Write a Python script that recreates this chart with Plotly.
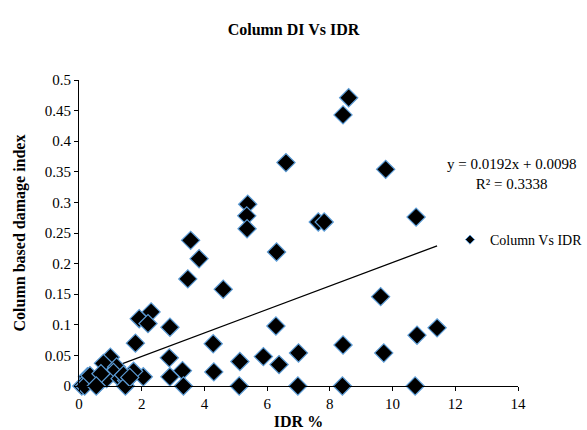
import plotly.graph_objects as go

# Data
idr = [8.6, 8.42, 6.6, 9.78, 5.38, 5.35, 5.36, 7.63, 7.82, 10.75,
       3.56, 6.3, 3.83, 3.47, 4.6, 9.62, 2.3, 1.92, 2.2, 2.9,
       6.28, 11.42, 10.78, 1.8, 4.28, 8.42, 7.0, 9.72, 5.88, 2.88,
       5.13, 6.38, 3.3, 4.3, 2.9, 2.05, 3.33, 5.11, 6.98, 8.4,
       10.72, 1.0, 0.78, 1.2, 1.1, 1.74, 0.27, 0.4, 0.62, 0.88,
       1.31, 1.52, 1.42, 0.09, 0.18, 1.48, 0.35, 1.62, 0.7, 0.55]
damage = [0.471, 0.443, 0.365, 0.354, 0.297, 0.278, 0.257, 0.268, 0.268, 0.276,
          0.238, 0.219, 0.208, 0.175, 0.158, 0.146, 0.121, 0.110, 0.102, 0.096,
          0.098, 0.095, 0.083, 0.070, 0.069, 0.067, 0.054, 0.054, 0.048, 0.046,
          0.040, 0.035, 0.025, 0.023, 0.015, 0.015, 0.0, 0.0, 0.0, 0.0,
          0.0, 0.047, 0.037, 0.031, 0.022, 0.024, 0.015, 0.009, 0.004, 0.012,
          0.012, 0.009, 0.018, 0.0, 0.0, 0.0, 0.017, 0.014, 0.020, 0.0]

trend_slope = 0.0192
trend_intercept = 0.0098
r_squared = 0.3338

x_ticks = [0, 2, 4, 6, 8, 10, 12, 14]
y_ticks = [0, 0.05, 0.1, 0.15, 0.2, 0.25, 0.3, 0.35, 0.4, 0.45, 0.5]
y_ticktext = ["0", "0.05", "0.1", "0.15", "0.2", "0.25", "0.3", "0.35", "0.4", "0.45", "0.5"]

series_name = "Column Vs IDR"
marker_fill = "black"
marker_edge = "#5B9BD5"
FONT = "Liberation Serif"

x_min, x_max = min(idr), max(idr)
trend_x = [x_min, x_max]
trend_y = [trend_slope * v + trend_intercept for v in trend_x]

fig = go.Figure()
fig.add_trace(go.Scatter(
    x=trend_x, y=trend_y, mode="lines",
    line=dict(color="black", width=1.3),
    showlegend=False, hoverinfo="skip", cliponaxis=False))
fig.add_trace(go.Scatter(
    x=idr, y=damage, mode="markers", name=series_name,
    marker=dict(symbol="diamond", size=14, color=marker_fill,
                line=dict(color=marker_edge, width=1.2)),
    showlegend=False, cliponaxis=False))
fig.add_trace(go.Scatter(
    x=[None], y=[None], mode="markers", name=series_name,
    marker=dict(symbol="diamond", size=7, color=marker_fill,
                line=dict(color=marker_edge, width=1)),
    showlegend=True))

fig.update_layout(
    width=587, height=430,
    paper_bgcolor="white", plot_bgcolor="white",
    margin=dict(l=79, r=69, t=80, b=44, autoexpand=False),
    font=dict(family=FONT, size=15, color="black"),
    title=dict(text="<b>Column DI Vs IDR</b>", x=0.5, xanchor="center",
               xref="container", yref="container",
               y=1 - 29 / 430, yanchor="middle",
               font=dict(family=FONT, size=16, color="black")),
    showlegend=True,
    legend=dict(xref="container", yref="container",
                x=450 / 587, y=1 - 240 / 430, xanchor="left", yanchor="middle",
                bgcolor="rgba(0,0,0,0)", font=dict(family=FONT, size=14),
                itemwidth=30, tracegroupgap=0),
    xaxis=dict(range=[0, 14], tickvals=x_ticks, showgrid=False, zeroline=False,
               automargin=False,
               showline=True, linecolor="black", linewidth=1,
               ticks="outside", ticklen=4, tickcolor="black",
               tickfont=dict(family=FONT, size=15),
               title=dict(text="<b>IDR %</b>", standoff=4,
                          font=dict(family=FONT, size=16))),
    yaxis=dict(range=[0, 0.5], tickvals=y_ticks, ticktext=y_ticktext,
               showgrid=False, zeroline=False, automargin=False,
               showline=True, linecolor="black", linewidth=1,
               ticks="outside", ticklen=4, tickcolor="black",
               tickfont=dict(family=FONT, size=15),
               title=dict(text="<b>Column based damage index</b>", standoff=15,
                          font=dict(family=FONT, size=16))),
    annotations=[dict(
        xref="paper", yref="paper", x=(511 - 79) / 439, y=(386 - 174) / 306,
        xanchor="center", yanchor="middle", align="center", showarrow=False,
        text=f"y = {trend_slope}x + {trend_intercept}<br>R² = {r_squared}",
        font=dict(family=FONT, size=15, color="black"))],
)

fig.write_html("out.html",
               config={"displayModeBar": False},
               post_script="document.body.style.margin='0px';document.body.style.overflow='hidden';")
